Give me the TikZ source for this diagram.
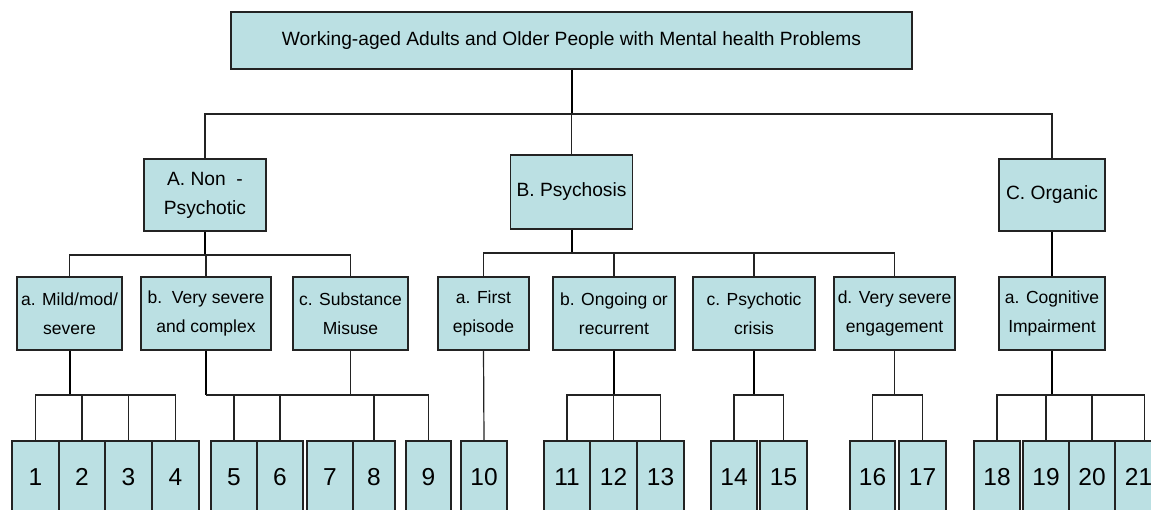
\documentclass[tikz,border=0pt]{standalone}
\usepackage{fontspec}
\setmainfont{Liberation Sans}
\definecolor{orgfill}{RGB}{187,224,227}
\definecolor{orgline}{RGB}{35,35,35}

\begin{document}
\begin{tikzpicture}[x=0.5pt, y=-0.5pt,
    box/.style 2 args={draw=orgline, fill=orgfill, line width=0.6pt, inner sep=0pt, align=center,
        minimum width={(#1)*0.5pt}, minimum height={(#2)*0.5pt}},
    groupbox/.style={box={#1}{72}, font=\fontsize{9.6}{14.5}\selectfont},
    subbox/.style={box={#1}{73}, font=\fontsize{8.75}{14.5}\selectfont},
    leaf/.style={box={#1}{72}, font=\fontsize{12.25}{14}\selectfont},
    link/.style={draw=orgline, line width=0.6pt},
    stem/.style={draw=black, line width=1pt}]
    \clip (0,0) rectangle (1151,509);
    %\draw [very thin,gray,dashed] (0,0) grid[step=50] (1151,509);
    \node[box={681}{57}, font=\fontsize{9.6}{12}\selectfont] (root) at (571.5,40.5)
        {Working-aged Adults and Older People with Mental health Problems};
    \node[groupbox=122] (A) at (205,195) {A. Non\ \ -\\Psychotic};
    \node[groupbox=122, minimum height=37pt] (B) at (571.5,192) {B. Psychosis};
    \node[groupbox=106] (C) at (1052,195) {C. Organic};
    \node[subbox=105] (Aa) at (69.5,313.5) {a. Mild/mod/\\severe};
    \node[subbox=130] (Ab) at (206,313.5) {b.\ \ Very severe\\and complex};
    \node[subbox=115] (Ac) at (350.5,313.5) {c. Substance\\Misuse};
    \node[subbox=91] (Ba) at (483.5,313.5) {a. First\\episode};
    \node[subbox=122] (Bb) at (614,313.5) {b. Ongoing or\\recurrent};
    \node[subbox=122] (Bc) at (754,313.5) {c. Psychotic\\crisis};
    \node[subbox=121] (Bd) at (894.5,313.5) {d. Very severe\\engagement};
    \node[subbox=106] (Ca) at (1052,313.5) {a. Cognitive\\Impairment};
    \foreach \n/\l/\r in {1/12/59, 2/59/105, 3/105/152, 4/152/199, 5/211/257, 6/257/303,
        7/307/353, 8/353/395, 9/406/451, 10/461/507, 11/544/590, 12/590/637, 13/637/684,
        14/711/757, 15/760/807, 16/850/895, 17/899/946, 18/974/1020, 19/1023/1069,
        20/1069/1115, 21/1115/1162} {
        \node[leaf={\r-\l}] (l\n) at ({(\l+\r)/2},477) {\n};
    }
    \coordinate (mainbar) at (0,114);
    \coordinate (nonbar) at (0,255);
    \coordinate (psybar) at (0,253);
    \coordinate (leafbar) at (0,395);
    \coordinate (drop21) at ([xshift=3pt]l21.north);
    % first level
    \draw[stem] (root.south) -- (root.south |- mainbar);
    \draw[link] (A.north) |- (C.north |- mainbar) -- (C.north);
    \draw[link] (B.north) -- (B.north |- mainbar);
    % second level
    \draw[stem] (A.south) -- (A.south |- nonbar);
    \draw[link] (Aa.north) |- (Ac.north |- nonbar) -- (Ac.north);
    \draw[link] (Ab.north) -- (Ab.north |- nonbar);
    \draw[stem] (B.south) -- (B.south |- psybar);
    \draw[link] (Ba.north) |- (Bd.north |- psybar) -- (Bd.north);
    \draw[link] (Bb.north) -- (Bb.north |- psybar);
    \draw[link] (Bc.north) -- (Bc.north |- psybar);
    \draw[stem] (C.south) -- (Ca.north);
    % leaves
    \draw[stem] (Aa.south) -- (Aa.south |- leafbar);
    \draw[link] (l1.north) |- (l4.north |- leafbar) -- (l4.north);
    \draw[stem] (Ab.south) -- (Ab.south |- leafbar);
    \draw[link] (Ab.south |- leafbar) -| (l9.north);
    \draw[link] (Ac.south) -- (Ac.south |- leafbar);
    \draw[link] (Ba.south) -- (l10.north);
    \draw[stem] (Bb.south) -- (Bb.south |- leafbar);
    \draw[link] (l11.north) |- (l13.north |- leafbar) -- (l13.north);
    \draw[stem] (Bc.south) -- (Bc.south |- leafbar);
    \draw[link] (l14.north) |- (l15.north |- leafbar) -- (l15.north);
    \draw[link] (Bd.south) -- (Bd.south |- leafbar);
    \draw[link] (l16.north) |- (l17.north |- leafbar) -- (l17.north);
    \draw[stem] (Ca.south) -- (Ca.south |- leafbar);
    \draw[link] (l18.north) |- (drop21 |- leafbar) -- (drop21);
    \foreach \k in {2,3,5,6,8,12,19,20} {
        \draw[link] (l\k.north) -- (l\k.north |- leafbar);
    }
\end{tikzpicture}
\end{document}
